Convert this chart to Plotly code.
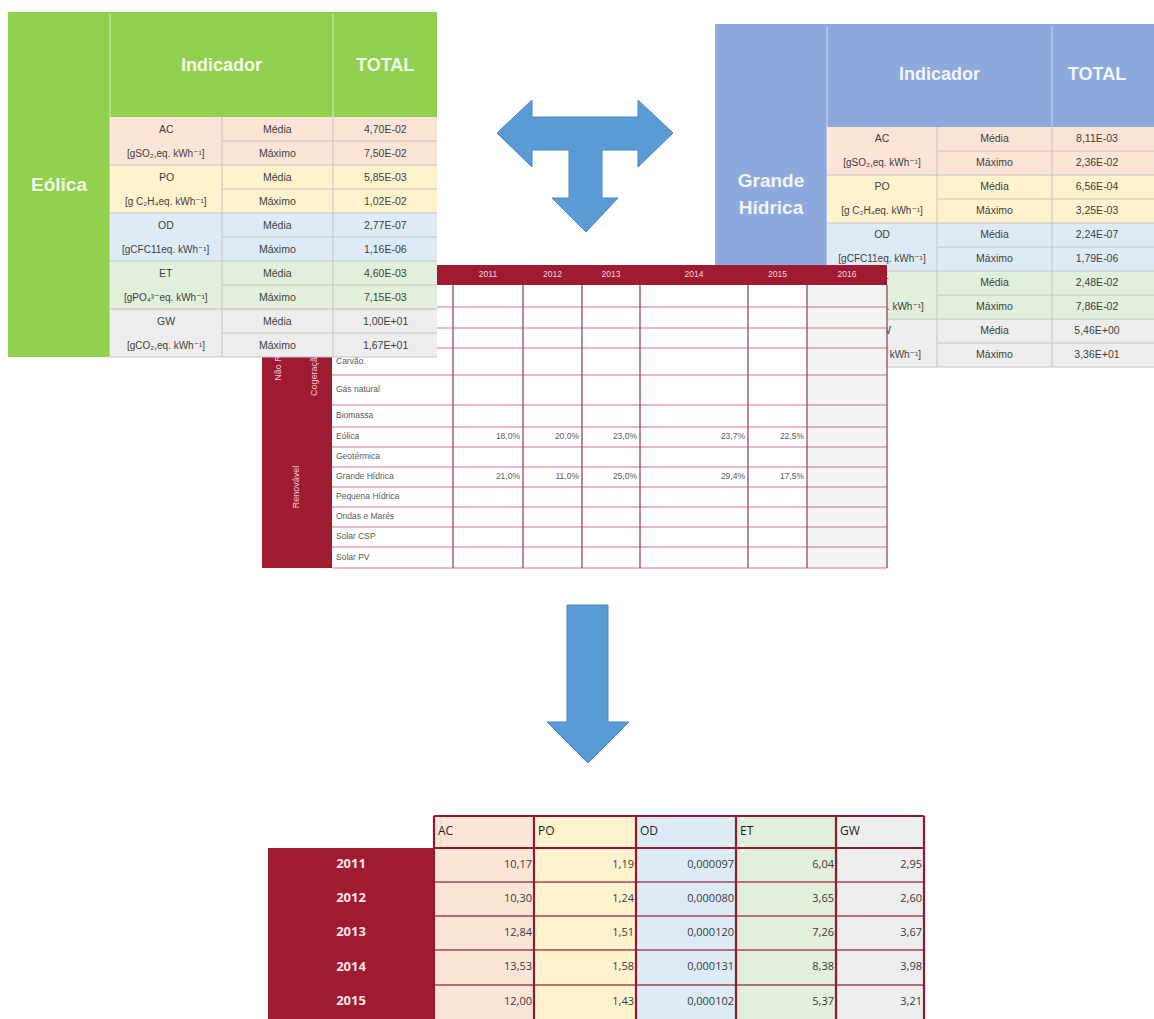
import plotly.graph_objects as go

# ---------------- data ----------------
indicators = ["AC", "PO", "OD", "ET", "GW"]
indicator_units = [
    "[gSO₂,eq. kWh⁻¹]",
    "[g C₂H₄eq. kWh⁻¹]",
    "[gCFC11eq. kWh⁻¹]",
    "[gPO₄³⁻eq. kWh⁻¹]",
    "[gCO₂,eq. kWh⁻¹]",
]
stat_labels = ["Média", "Máximo"]
eolica_totals = [4.70e-02, 7.50e-02, 5.85e-03, 1.02e-02, 2.77e-07,
                 1.16e-06, 4.60e-03, 7.15e-03, 1.00e+01, 1.67e+01]
grande_hidrica_totals = [8.11e-03, 2.36e-02, 6.56e-04, 3.25e-03, 2.24e-07,
                         1.79e-06, 2.48e-02, 7.86e-02, 5.46e+00, 3.36e+01]

mix_years = ["2011", "2012", "2013", "2014", "2015", "2016"]
mix_sources = ["", "", "", "Carvão", "Gás natural", "Biomassa", "Eólica",
               "Geotérmica", "Grande Hídrica", "Pequena Hídrica",
               "Ondas e Marés", "Solar CSP", "Solar PV"]
mix_group_labels = ["Não Renovável", "Cogeração", "Renovável"]
mix_eolica_share = [18.0, 20.0, 23.0, 23.7, 22.5, None]
mix_grande_hidrica_share = [21.0, 11.0, 25.0, 29.4, 17.5, None]

result_years = ["2011", "2012", "2013", "2014", "2015"]
result_indicators = ["AC", "PO", "OD", "ET", "GW"]
result_AC = [10.17, 10.30, 12.84, 13.53, 12.00]
result_PO = [1.19, 1.24, 1.51, 1.58, 1.43]
result_OD = [0.000097, 0.000080, 0.000120, 0.000131, 0.000102]
result_ET = [6.04, 3.65, 7.26, 8.38, 5.37]
result_GW = [2.95, 2.60, 3.67, 3.98, 3.21]
result_decimals = [2, 2, 6, 2, 2]

# ---------------- styles ----------------
GROUP_FILL = ["#FCE4D6", "#FFF2CC", "#DDEBF7", "#E2EFDA", "#EDEDED"]
FONT = "Liberation Sans Narrow, Arial Narrow, Liberation Sans, DejaVu Sans, sans-serif"
FONT_HEAD = "Liberation Sans, Arial, sans-serif"
FONT_BOTTOM = "Open Sans, Noto Sans, sans-serif"
BODY_TXT = "#3F3F3F"
RED = "#9E1B32"

fig = go.Figure()


def sci(v):
    return f"{v:.2E}".replace(".", ",")


def dec(v, d):
    return f"{v:.{d}f}".replace(".", ",")


POS = {"center": "middle center", "right": "middle left", "left": "middle right"}


def render(rects, seg_groups, texts, as_shapes):
    if as_shapes:
        for (x0, y0, x1, y1), c in rects:
            fig.add_shape(type="rect", xref="x", yref="y", x0=x0, y0=y0, x1=x1, y1=y1,
                          fillcolor=c, line=dict(width=0), layer="above")
        for segs, c, w in seg_groups:
            for (x0, y0, x1, y1) in segs:
                fig.add_shape(type="line", xref="x", yref="y", x0=x0, y0=y0, x1=x1, y1=y1,
                              line=dict(color=c, width=w), layer="above")
        for (x, y, t, s, c, f, al) in texts:
            fig.add_annotation(x=x, y=y, text=t, showarrow=False, xanchor=al,
                               yanchor="middle", font=dict(size=s, color=c, family=f))
        return
    by_col = {}
    for r, c in rects:
        by_col.setdefault(c, []).append(r)
    for c, rs in by_col.items():
        xs, ys = [], []
        for (x0, y0, x1, y1) in rs:
            xs += [x0, x1, x1, x0, x0, None]
            ys += [y0, y0, y1, y1, y0, None]
        fig.add_trace(go.Scatter(x=xs, y=ys, mode="lines", fill="toself", fillcolor=c,
                                 line=dict(width=0, color=c), hoverinfo="skip"))
    for segs, c, w in seg_groups:
        xs, ys = [], []
        for (x0, y0, x1, y1) in segs:
            xs += [x0, x1, None]
            ys += [y0, y1, None]
        fig.add_trace(go.Scatter(x=xs, y=ys, mode="lines", line=dict(color=c, width=w),
                                 hoverinfo="skip"))
    groups = {}
    for (x, y, t, s, c, f, al) in texts:
        groups.setdefault((s, c, f, al), []).append((x, y, t))
    for (s, c, f, al), items in groups.items():
        fig.add_trace(go.Scatter(x=[i[0] for i in items], y=[i[1] for i in items],
                                 text=[i[2] for i in items], mode="text",
                                 textposition=POS[al],
                                 textfont=dict(size=s, color=c, family=f),
                                 hoverinfo="skip"))


def side_table(xe, fill_right, y_top, y_head, row_h, head_col, name_lines, totals, txt_col,
               as_shapes):
    X0, X1, X2, X3, X4 = xe
    y_bot = y_head + row_h * 2 * len(indicators)
    rects = [((X0, y_top, fill_right, y_head), head_col), ((X0, y_head, X1, y_bot), head_col)]
    for g in range(len(indicators)):
        rects.append(((X1, y_head + 2 * g * row_h, fill_right, y_head + (2 * g + 2) * row_h),
                      GROUP_FILL[g]))
    light = [(X1, y_top + 2, X1, y_bot), (X3, y_top + 2, X3, y_head)]
    grid = [(X2, y_head, X2, y_bot), (X3, y_head, X3, y_bot)]
    for g in range(len(indicators)):
        ym = y_head + (2 * g + 1) * row_h
        grid.append((X2, ym, fill_right, ym))
        yb = y_head + (2 * g + 2) * row_h
        grid.append((X1, yb, fill_right, yb))
    texts = []
    yh = (y_top + y_head) / 2
    texts.append(((X1 + X3) / 2, yh, "<b>Indicador</b>", 18, txt_col, FONT_HEAD, "center"))
    texts.append(((X3 + X4) / 2, yh, "<b>TOTAL</b>", 18, txt_col, FONT_HEAD, "center"))
    name_step = 27
    y_name0 = (y_top + y_bot) / 2 - name_step * (len(name_lines) - 1) / 2
    for k, line in enumerate(name_lines):
        texts.append(((X0 + X1) / 2, y_name0 + k * name_step, f"<b>{line}</b>", 19, txt_col,
                      FONT_HEAD, "center"))
    for g, ind in enumerate(indicators):
        y1 = y_head + (2 * g + 0.5) * row_h
        y2 = y1 + row_h
        texts.append(((X1 + X2) / 2, y1, ind, 10.5, BODY_TXT, FONT, "center"))
        texts.append(((X1 + X2) / 2, y2, indicator_units[g], 10, BODY_TXT, FONT, "center"))
        for k, yy in enumerate((y1, y2)):
            texts.append(((X2 + X3) / 2, yy, stat_labels[k], 10.5, BODY_TXT, FONT, "center"))
            texts.append(((X3 + X4) / 2, yy, sci(totals[2 * g + k]), 10.5, BODY_TXT, FONT,
                          "center"))
    render(rects, [(light, "rgba(255,255,255,0.55)", 1), (grid, "#C4C4C4", 1)], texts,
           as_shapes)


# ---------------- right table: Grande Hídrica (bottom layer) ----------------
side_table((715, 827, 937, 1052, 1142), 1154, 24, 127, 24, "#8EA9DB",
           ["Grande", "Hídrica"], grande_hidrica_totals, "#F1F5FC", as_shapes=False)

# ---------------- middle table: electricity mix ----------------
MX = [332, 453, 523, 582, 640, 748, 807, 887]
MY = [285, 307, 328, 348, 375, 405, 427, 447, 467, 487, 507, 527, 547, 568]
m_rects = [((332, 285, 807, 568), "#FFFFFF"), ((807, 285, 887, 568), "#F1F4F0"),
           ((262, 265, 332, 568), RED), ((262, 265, 887, 285), RED)]
h_lines = [(332, y, 887, y) for y in MY[1:]]
v_lines = [(x, 285, x, 568) for x in MX[1:]]
m_texts = []
for j, yr in enumerate(mix_years):
    m_texts.append(((MX[j + 1] + MX[j + 2]) / 2, 275, yr, 8.5, "#F6D6DC", FONT, "center"))
for i, src in enumerate(mix_sources):
    if src:
        m_texts.append((336, (MY[i] + MY[i + 1]) / 2, src, 8.5, "#595959", FONT, "left"))
for src, shares in (("Eólica", mix_eolica_share), ("Grande Hídrica", mix_grande_hidrica_share)):
    i = mix_sources.index(src)
    for j, v in enumerate(shares):
        if v is not None:
            m_texts.append((MX[j + 2] - 3, (MY[i] + MY[i + 1]) / 2, dec(v, 1) + "%", 8.5,
                            "#595959", FONT, "right"))
render(m_rects, [(h_lines, "#D9728B", 1.2), (v_lines, "#8E3B4E", 1.2)], m_texts, False)

# ---------------- arrows ----------------
t_arrow_x = [497, 532, 532, 638, 638, 673, 638, 638, 602, 602, 618, 586, 552, 569, 569, 532, 532, 497]
t_arrow_y = [133, 100, 117, 117, 100, 133, 167, 150, 150, 198, 198, 232, 198, 198, 150, 150, 167, 133]
d_arrow_x = [567, 608, 608, 629, 588, 547, 567, 567]
d_arrow_y = [605, 605, 722, 722, 763, 722, 722, 605]
for ax_, ay_ in ((t_arrow_x, t_arrow_y), (d_arrow_x, d_arrow_y)):
    fig.add_trace(go.Scatter(x=ax_, y=ay_, mode="lines", fill="toself", fillcolor="#5B9BD5",
                             line=dict(color="#4A86C5", width=1), hoverinfo="skip"))

# ---------------- bottom table: results per year ----------------
BX = [268, 434, 534, 636, 736, 836, 924]
BY = [816, 848, 882, 916, 950, 985, 1019]
result_values = [result_AC, result_PO, result_OD, result_ET, result_GW]
b_rects = [((268, 848, 434, 1019), RED)]
for i in range(len(result_indicators)):
    b_rects.append(((BX[i + 1], 816, BX[i + 2], 1019), GROUP_FILL[i]))
b_vert = [(x, 816, x, 1019) for x in BX[1:]]
b_head = [(434, 816, 924, 816), (434, 848, 924, 848)]
b_rows = [(434, y, 924, y) for y in BY[2:-1]]
b_texts = []
for i, ind in enumerate(result_indicators):
    b_texts.append((BX[i + 1] + 4, 832, ind, 12, "#1F1F1F", FONT_BOTTOM, "left"))
for r, yr in enumerate(result_years):
    yc = (BY[r + 1] + BY[r + 2]) / 2
    b_texts.append((351, yc, f"<b>{yr}</b>", 13, "#F9E4E7", FONT_BOTTOM, "center"))
    for i, vals in enumerate(result_values):
        b_texts.append((BX[i + 2] - 2, yc, dec(vals[r], result_decimals[i]), 11, "#3A3A3A",
                        FONT_BOTTOM, "right"))
render(b_rects, [(b_rows, "#A04455", 1.3), (b_vert, "#8E1B2F", 2.2), (b_head, "#8E1B2F", 2.2)],
       b_texts, False)

# ---------------- rotated group labels of the middle table (shape labels) ----------------
for lab, (x0, y0, x1, y1) in zip(mix_group_labels,
                                 [(266, 320, 288, 380), (302, 345, 324, 403), (284, 440, 306, 534)]):
    fig.add_shape(type="rect", xref="x", yref="y", x0=x0, y0=y0, x1=x1, y1=y1,
                  fillcolor="rgba(0,0,0,0)", line=dict(width=0), layer="above",
                  label=dict(text=lab, textangle=-90, textposition="middle center",
                             font=dict(size=9, color="#F3C9D1", family=FONT)))

# ---------------- left table: Eólica (top layer) ----------------
side_table((8, 110, 222, 333, 437), 437, 12, 117, 24, "#92D050", ["Eólica"], eolica_totals,
           "#F3FAEC", as_shapes=True)

fig.update_layout(
    width=1154, height=1019, margin=dict(l=0, r=0, t=0, b=0),
    paper_bgcolor="white", plot_bgcolor="white", showlegend=False, hovermode=False,
    xaxis=dict(range=[0, 1154], visible=False, fixedrange=True),
    yaxis=dict(range=[1019, 0], visible=False, fixedrange=True),
)
fig.write_html("out.html", config={"displayModeBar": False},
               post_script="document.body.style.margin='0';document.body.style.overflow='hidden';")
